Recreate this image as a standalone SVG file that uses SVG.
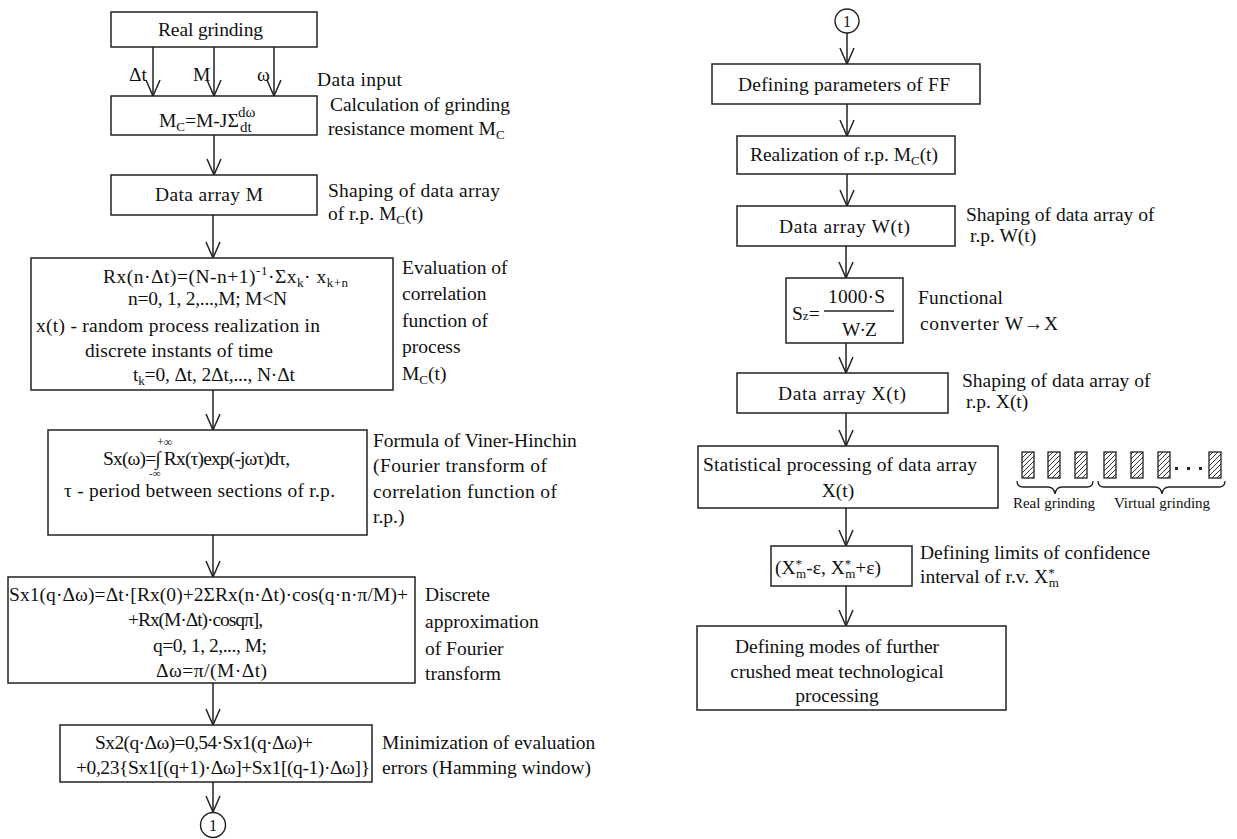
<svg xmlns="http://www.w3.org/2000/svg" width="1237" height="839" viewBox="0 0 1237 839">
<defs>
<style>
.box{fill:#fff;stroke:#222;stroke-width:1.5}
.t{font-family:"Liberation Serif","Times New Roman",serif;font-size:19.5px;fill:#111}
.s{font-size:13px}
.m{text-anchor:middle}
.sm{font-family:"Liberation Serif","Times New Roman",serif;font-size:15px;fill:#111}
.conn line{stroke:#222;stroke-width:1.5;marker-end:url(#v)}
.hat{fill:url(#hatch);stroke:#222;stroke-width:1.3}
.br{fill:none;stroke:#222;stroke-width:1.3}
</style>
<marker id="v" viewBox="-17 -8 18 16" refX="0" refY="0" markerWidth="18" markerHeight="16" markerUnits="userSpaceOnUse" orient="auto">
<path d="M-16,-7 L0,0 L-16,7" fill="none" stroke="#222" stroke-width="1.5"/>
</marker>
<pattern id="hatch" patternUnits="userSpaceOnUse" width="5" height="5">
<rect width="5" height="5" fill="#fff"/>
<path d="M0,5 L5,0 M-1,1 L1,-1 M4,6 L6,4" stroke="#333" stroke-width="1"/>
</pattern>
</defs>
<rect width="1237" height="839" fill="#fff"/>

<g class="conn">
<line x1="153" y1="47" x2="153" y2="96"/>
<line x1="214" y1="47" x2="214" y2="96"/>
<line x1="274" y1="47" x2="274" y2="96"/>
<line x1="214" y1="135" x2="214" y2="175"/>
<line x1="213" y1="215" x2="213" y2="258"/>
<line x1="213" y1="390" x2="213" y2="430"/>
<line x1="213" y1="535" x2="213" y2="577"/>
<line x1="213" y1="683" x2="213" y2="725"/>
<line x1="213" y1="782" x2="213" y2="812"/>
<line x1="847" y1="33" x2="847" y2="64"/>
<line x1="847" y1="104" x2="847" y2="136"/>
<line x1="847" y1="174" x2="847" y2="206"/>
<line x1="846" y1="246" x2="846" y2="278"/>
<line x1="846" y1="343" x2="846" y2="373"/>
<line x1="846" y1="413" x2="846" y2="446"/>
<line x1="846" y1="508" x2="846" y2="546"/>
<line x1="846" y1="586" x2="846" y2="626"/>
</g>

<g id="real-grinding">
<rect class="box" x="111" y="12" width="206" height="35"/>
<text class="t" x="158" y="36" textLength="105">Real grinding</text>
</g>
<g id="data-input">
<text class="t" x="129" y="81">Δt</text>
<text class="t" x="193" y="81">M</text>
<text class="t" x="257" y="81">ω</text>
<text class="t" x="317" y="86" textLength="85">Data input</text>
</g>
<g id="mc-calc">
<rect class="box" x="111" y="96" width="206" height="39"/>
<text class="t" x="159" y="127">M<tspan class="s" dy="4">C</tspan><tspan dy="-4">=M-JΣ</tspan></text>
<text class="sm" x="238" y="117">dω</text>
<text class="sm" x="240" y="132">dt</text>
<text class="t" x="330" y="111" textLength="180">Calculation of grinding</text>
<text class="t" x="328" y="135">resistance moment M<tspan class="s" dy="4">C</tspan></text>
</g>
<g id="data-array-m">
<rect class="box" x="111" y="175" width="206" height="40"/>
<text class="t" x="155" y="201" textLength="108">Data array M</text>
<text class="t" x="328" y="197" textLength="172">Shaping of data array</text>
<text class="t" x="328" y="220">of r.p. M<tspan class="s" dy="4">C</tspan><tspan dy="-4">(t)</tspan></text>
</g>
<g id="correlation">
<rect class="box" x="31" y="258" width="362" height="132"/>
<text class="t" x="103" y="283" textLength="245">Rx(n·Δt)=(N-n+1)<tspan class="s" dy="-8">-1</tspan><tspan dy="8">·Σx</tspan><tspan class="s" dy="4">k</tspan><tspan dy="-4">· x</tspan><tspan class="s" dy="4">k+n</tspan></text>
<text class="t" x="128" y="305" textLength="159">n=0, 1, 2,...,M; M&lt;N</text>
<text class="t" x="36" y="332" textLength="284">x(t) - random process realization in</text>
<text class="t" x="85" y="357" textLength="188">discrete instants of time</text>
<text class="t" x="133" y="381" textLength="162">t<tspan class="s" dy="4">k</tspan><tspan dy="-4">=0, Δt, 2Δt,..., N·Δt</tspan></text>
<text class="t" x="402" y="274">Evaluation of</text>
<text class="t" x="402" y="300">correlation</text>
<text class="t" x="402" y="327">function of</text>
<text class="t" x="402" y="353">process</text>
<text class="t" x="402" y="380">M<tspan class="s" dy="4">C</tspan><tspan dy="-4">(t)</tspan></text>
</g>
<g id="viner-hinchin">
<rect class="box" x="48" y="430" width="319" height="105"/>
<text class="t" x="157" y="446" style="font-size:12px">+∞</text>
<text class="t" x="103" y="465" textLength="187">Sx(ω)=∫ Rx(τ)exp(-jωτ)dτ,</text>
<text class="t" x="149" y="477" style="font-size:11px">-∞</text>
<text class="t" x="64" y="497" textLength="271">τ - period between sections of r.p.</text>
<text class="t" x="373" y="447">Formula of Viner-Hinchin</text>
<text class="t" x="373" y="472" textLength="174">(Fourier transform of</text>
<text class="t" x="373" y="498" textLength="184">correlation function of</text>
<text class="t" x="373" y="523">r.p.)</text>
</g>
<g id="discrete-approx">
<rect class="box" x="8" y="577" width="407" height="106"/>
<text class="t" x="9" y="601" textLength="399">Sx1(q·Δω)=Δt·[Rx(0)+2ΣRx(n·Δt)·cos(q·n·π/M)+</text>
<text class="t" x="128" y="626" textLength="135">+Rx(M·Δt)·cosqπ],</text>
<text class="t" x="153" y="652" textLength="114">q=0, 1, 2,..., M;</text>
<text class="t" x="156" y="677" textLength="111">Δω=π/(M·Δt)</text>
<text class="t" x="425" y="601">Discrete</text>
<text class="t" x="425" y="628">approximation</text>
<text class="t" x="425" y="655">of Fourier</text>
<text class="t" x="425" y="680">transform</text>
</g>
<g id="hamming">
<rect class="box" x="60" y="725" width="312" height="57"/>
<text class="t" x="95" y="749" textLength="218">Sx2(q·Δω)=0,54·Sx1(q·Δω)+</text>
<text class="t" x="76" y="774" textLength="294">+0,23{Sx1[(q+1)·Δω]+Sx1[(q-1)·Δω]}</text>
<text class="t" x="382" y="749">Minimization of evaluation</text>
<text class="t" x="382" y="774">errors (Hamming window)</text>
</g>
<g id="connector-1-left">
<circle cx="213" cy="825" r="12.5" fill="#fff" stroke="#222" stroke-width="1.4"/>
<text class="t m" x="213" y="831" style="font-size:16px">1</text>
</g>

<g id="connector-1-right">
<circle cx="847" cy="21" r="12" fill="#fff" stroke="#222" stroke-width="1.4"/>
<text class="t m" x="847" y="27" style="font-size:16px">1</text>
</g>
<g id="ff-params">
<rect class="box" x="712" y="64" width="268" height="40"/>
<text class="t" x="738" y="91" textLength="212">Defining parameters of FF</text>
</g>
<g id="realization">
<rect class="box" x="737" y="136" width="218" height="38"/>
<text class="t" x="750" y="161" textLength="188">Realization of r.p. M<tspan class="s" dy="4">C</tspan><tspan dy="-4">(t)</tspan></text>
</g>
<g id="data-array-w">
<rect class="box" x="737" y="206" width="218" height="40"/>
<text class="t" x="779" y="233" textLength="131">Data array W(t)</text>
<text class="t" x="966" y="221">Shaping of data array of</text>
<text class="t" x="970" y="242">r.p. W(t)</text>
</g>
<g id="converter">
<rect class="box" x="786" y="278" width="117" height="65"/>
<text class="t" x="792" y="320">S<tspan class="s">z</tspan>=</text>
<line x1="824" y1="311" x2="894" y2="311" stroke="#222" stroke-width="1.3"/>
<text class="t" x="828" y="303" textLength="57">1000·S</text>
<text class="t" x="842" y="336" textLength="35">W·Z</text>
<text class="t" x="918" y="304" textLength="85">Functional</text>
<text class="t" x="920" y="330" textLength="138">converter W→X</text>
</g>
<g id="data-array-x">
<rect class="box" x="737" y="373" width="211" height="40"/>
<text class="t" x="778" y="400" textLength="128">Data array X(t)</text>
<text class="t" x="962" y="387">Shaping of data array of</text>
<text class="t" x="966" y="408">r.p. X(t)</text>
</g>
<g id="statistical">
<rect class="box" x="698" y="446" width="300" height="62"/>
<text class="t" x="703" y="471" textLength="274">Statistical processing of data array</text>
<text class="t m" x="838" y="497">X(t)</text>
</g>
<g id="grinding-legend">
<rect class="hat" x="1022" y="452" width="12" height="26"/>
<rect class="hat" x="1048" y="452" width="12" height="26"/>
<rect class="hat" x="1075" y="452" width="12" height="26"/>
<rect class="hat" x="1104" y="452" width="12" height="26"/>
<rect class="hat" x="1131" y="452" width="12" height="26"/>
<rect class="hat" x="1158" y="452" width="12" height="26"/>
<rect class="hat" x="1209" y="452" width="12" height="26"/>
<rect x="1175" y="467" width="3" height="3" fill="#222"/>
<rect x="1187" y="467" width="3" height="3" fill="#222"/>
<rect x="1199" y="467" width="3" height="3" fill="#222"/>
<path class="br" d="M1017,481 Q1017,487 1023,487 L1048,487 Q1054,487 1055,494 Q1056,487 1062,487 L1087,487 Q1093,487 1093,481"/>
<path class="br" d="M1098,481 Q1098,487 1104,487 L1155,487 Q1161,487 1162,494 Q1163,487 1169,487 L1219,487 Q1225,487 1225,481"/>
<text class="sm m" x="1054" y="508">Real grinding</text>
<text class="sm m" x="1162" y="508">Virtual grinding</text>
</g>
<g id="confidence">
<rect class="box" x="771" y="546" width="141" height="40"/>
<text class="t" x="775" y="574">(X<tspan class="s" dy="-6">*</tspan><tspan class="s" dx="-6" dy="10">m</tspan><tspan dy="-4">-ε, X</tspan><tspan class="s" dy="-6">*</tspan><tspan class="s" dx="-6" dy="10">m</tspan><tspan dy="-4">+ε)</tspan></text>
<text class="t" x="920" y="559">Defining limits of confidence</text>
<text class="t" x="920" y="583">interval of r.v. X<tspan class="s" dy="-6">*</tspan><tspan class="s" dx="-6" dy="10">m</tspan></text>
</g>
<g id="modes">
<rect class="box" x="697" y="626" width="309" height="84"/>
<text class="t m" x="837" y="653">Defining modes of further</text>
<text class="t m" x="837" y="678">crushed meat technological</text>
<text class="t m" x="837" y="702">processing</text>
</g>
</svg>
